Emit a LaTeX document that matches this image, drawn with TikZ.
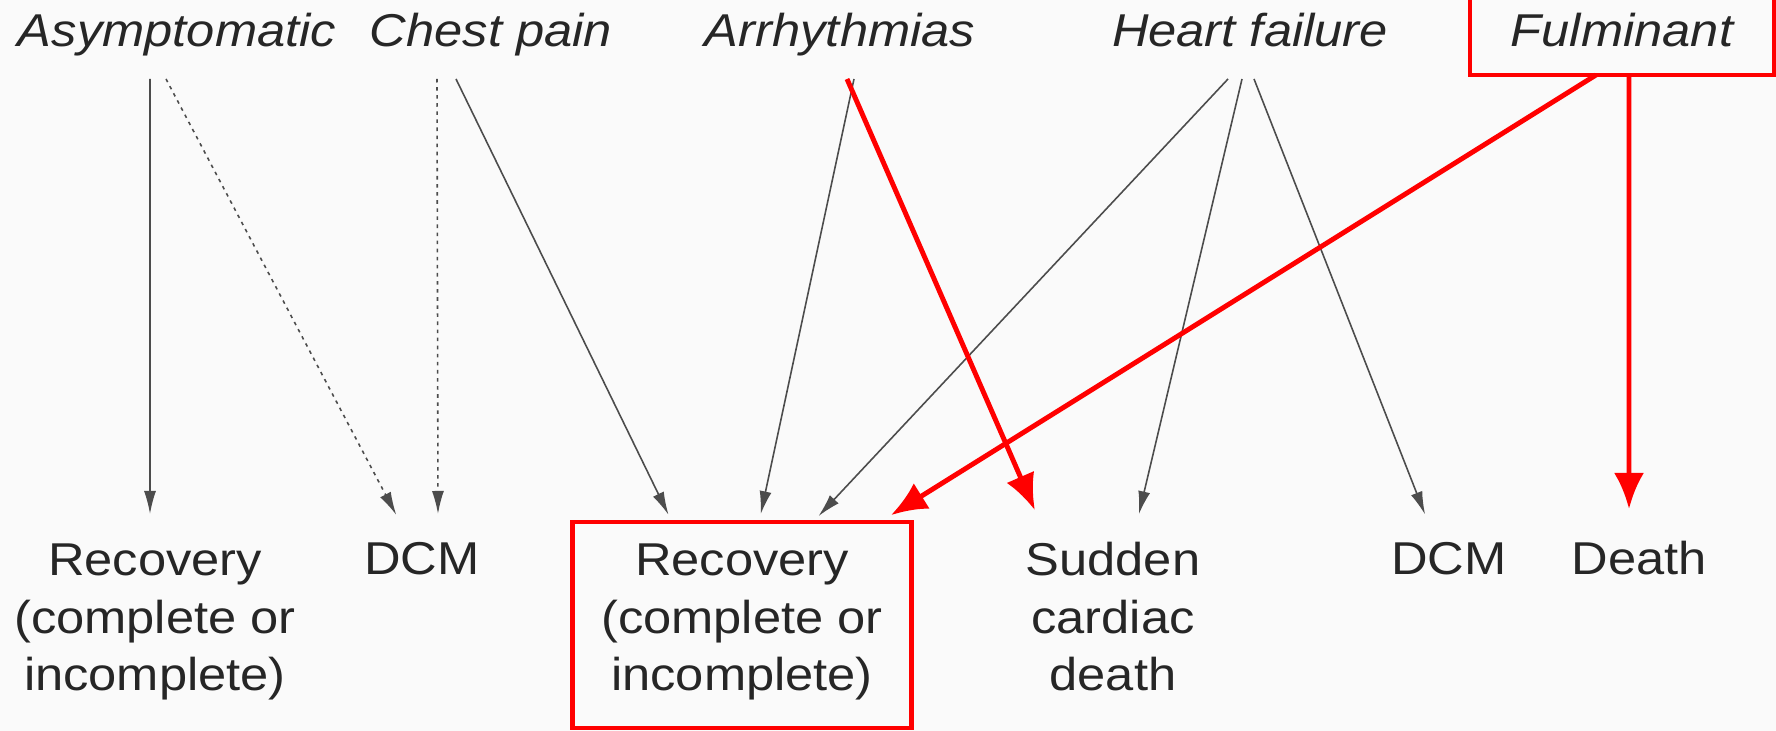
\documentclass[tikz,border=0pt]{standalone}
\usepackage{fontspec}
\setmainfont{Liberation Sans}[FakeStretch=1.1]
\usetikzlibrary{arrows.meta}

\newcommand{\corpotesto}{\fontsize{13.1pt}{16.5pt}\selectfont}

\tikzset{
  esordio/.style={font=\corpotesto\itshape, text=black!85, anchor=base,
    text depth=0.1cm, inner sep=0.22cm, outer sep=0pt},
  esito/.style={font=\corpotesto, text=black!85, align=center, anchor=north,
    text height=0.33cm, text depth=0.17cm, inner sep=0.2cm, outer sep=0pt},
  trerighe/.style={text height=1.49cm},
  evid/.style={draw=red, line width=1.4pt},
  freccia/.style={draw=black!70, line width=0.45pt,
    -{Latex[length=0.23cm,width=0.12cm]}, shorten >=0.08cm},
  tratt/.style={freccia, dash pattern=on 1pt off 1.3pt},
  rossa/.style={draw=red, line width=1.4pt,
    -{Latex[length=0.36cm,width=0.3cm]}, shorten >=0.13cm}
}

\begin{document}
\begin{tikzpicture}
  % sfondo
  \fill[black!2] (0,0) rectangle (17.76,7.31);
  \useasboundingbox (0,0) rectangle (17.76,7.31);

  % presentazione
  \node[esordio] (asint) at (1.77,6.84) {Asymptomatic};
  \node[esordio] (dolore) at (4.91,6.84) {Chest pain};
  \node[esordio] (aritmie) at (8.40,6.84) {Arrhythmias};
  \node[esordio] (scomp) at (12.50,6.84) {Heart failure};
  \node[esordio, evid, minimum width=3.04cm, inner ysep=0.18cm] (fulm) at (16.22,6.84) {Fulminant};

  % esiti
  \node[esito, trerighe] (guar1) at (1.55,2.09) {Recovery\\(complete or\\incomplete)};
  \node[esito] (dcm1) at (4.22,2.09) {DCM};
  \node[esito, trerighe, evid, minimum width=3.39cm] (guar2) at (7.42,2.09) {Recovery\\(complete or\\incomplete)};
  \node[esito, trerighe] (morteimp) at (11.13,2.09) {Sudden\\cardiac\\death};
  \node[esito] (dcm2) at (14.49,2.09) {DCM};
  \node[esito] (morte) at (16.39,2.09) {Death};

  % frecce nere
  \draw[freccia] ([xshift=-0.27cm]asint.south) -- ([xshift=-0.05cm]guar1.north);
  \draw[tratt] ([xshift=-0.11cm]asint.south) -- ([xshift=-0.22cm]dcm1.north);
  \draw[tratt] ([xshift=-0.54cm]dolore.south) -- ([xshift=0.16cm]dcm1.north);
  \draw[freccia] ([xshift=-0.35cm]dolore.south) -- ([xshift=-0.70cm]guar2.north);
  \draw[freccia] ([xshift=0.14cm]aritmie.south) -- ([xshift=0.17cm]guar2.north);
  \draw[freccia] ([xshift=-0.22cm]scomp.south) -- ([xshift=0.71cm]guar2.north);
  \draw[freccia] ([xshift=-0.08cm]scomp.south) -- ([xshift=0.24cm]morteimp.north);
  \draw[freccia] ([xshift=0.04cm]scomp.south) -- ([xshift=-0.21cm]dcm2.north);

  % frecce rosse
  \draw[rossa] ([xshift=0.07cm]aritmie.south) -- ([xshift=-0.73cm]morteimp.north);
  \draw[rossa] ([xshift=-0.26cm]fulm.south) -- ([xshift=1.38cm]guar2.north);
  \draw[rossa] ([xshift=0.07cm]fulm.south) -- ([xshift=-0.10cm]morte.north);
\end{tikzpicture}
\end{document}
